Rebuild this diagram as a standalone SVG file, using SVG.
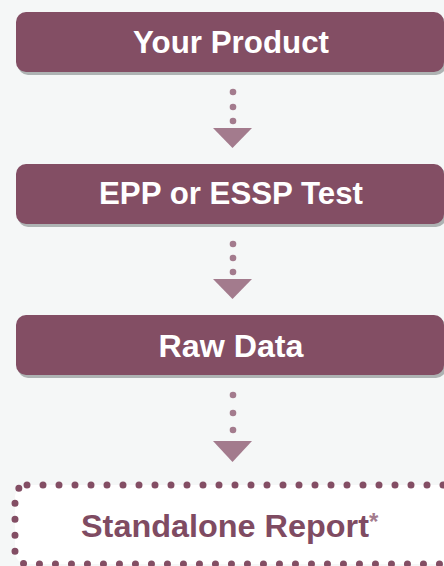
<svg xmlns="http://www.w3.org/2000/svg" width="444" height="566" viewBox="0 0 444 566">
<style>
.box{fill:#834e64}
.sh{fill:#aeb3b3}
.lbl{font-family:"Liberation Sans",Arial,sans-serif;font-weight:bold;font-size:31px;fill:#ffffff;text-anchor:middle}
.dot{fill:#a37b8d}
.tri{fill:#a37b8d}
.rep{font-family:"Liberation Sans",Arial,sans-serif;font-weight:bold;font-size:31px;fill:#7f4b62}
</style>
<rect width="444" height="566" fill="#f5f7f7"/>
<g id="node-product">
<rect class="sh" x="18" y="15" width="428" height="60" rx="10"/>
<rect class="box" x="16" y="12" width="428" height="60" rx="10"/>
<text class="lbl" x="231" y="53" textLength="196" lengthAdjust="spacingAndGlyphs">Your Product</text>
</g>
<g id="node-test">
<rect class="sh" x="18" y="167" width="428" height="60" rx="10"/>
<rect class="box" x="16" y="164" width="428" height="60" rx="10"/>
<text class="lbl" x="231" y="204" textLength="264" lengthAdjust="spacingAndGlyphs">EPP or ESSP Test</text>
</g>
<g id="node-raw">
<rect class="sh" x="18" y="318" width="428" height="60" rx="10"/>
<rect class="box" x="16" y="315" width="428" height="60" rx="10"/>
<text class="lbl" x="231" y="357" textLength="145" lengthAdjust="spacingAndGlyphs">Raw Data</text>
</g>
<g id="node-report">
<rect x="15" y="485" width="440" height="79" rx="12" fill="#ffffff" stroke="#834e64" stroke-width="7" stroke-linecap="round" stroke-dasharray="0 16"/>
<text class="rep" x="81" y="537" textLength="288" lengthAdjust="spacingAndGlyphs">Standalone Report</text>
<text x="369" y="530" font-family="'Liberation Sans',Arial,sans-serif" font-weight="bold" font-size="24" fill="#a37b8d">*</text>
</g>
<g id="connectors">
<circle class="dot" cx="233" cy="92" r="3.3"/>
<circle class="dot" cx="233" cy="107" r="3.3"/>
<circle class="dot" cx="233" cy="121" r="3.3"/>
<polygon class="tri" points="213,128 252,128 232.5,148"/>
<circle class="dot" cx="233" cy="244" r="3.3"/>
<circle class="dot" cx="233" cy="258" r="3.3"/>
<circle class="dot" cx="233" cy="272" r="3.3"/>
<polygon class="tri" points="213,279 252,279 232.5,299"/>
<circle class="dot" cx="233" cy="395" r="3.3"/>
<circle class="dot" cx="233" cy="413" r="3.3"/>
<circle class="dot" cx="233" cy="430" r="3.3"/>
<polygon class="tri" points="213,441 252,441 232.5,462"/>
</g>
</svg>
